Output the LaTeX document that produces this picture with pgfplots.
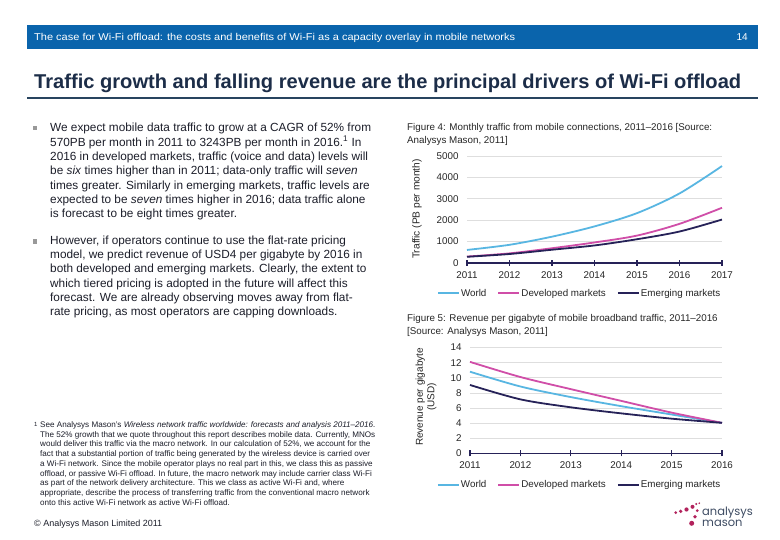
\documentclass[border=0pt]{standalone}
\usepackage{pgfplots}
\pgfplotsset{compat=1.18}
\usepackage{fontspec}
\setmainfont{Liberation Sans}
\newfontfamily\logofont{Poppins}
\definecolor{hdrblue}{RGB}{10,100,172}
\definecolor{titlec}{RGB}{28,45,72}
\definecolor{rulec}{RGB}{40,68,95}
\definecolor{bodyc}{RGB}{28,30,42}
\definecolor{worldc}{RGB}{88,182,226}
\definecolor{devc}{RGB}{208,78,168}
\definecolor{emc}{RGB}{38,34,88}
\definecolor{logom}{RGB}{178,34,92}
\definecolor{gridc}{RGB}{222,222,222}
\newcommand\tx[3]{\node[anchor=base west,inner sep=0pt] at (#1pt,#2pt) {#3};}
\pgfplotsset{slide/.style={
  scale only axis, clip=false,
  axis x line*=bottom, axis y line*=left,
  y axis line style={draw=none}, ytick style={draw=none},
  x axis line style={emc, line width=1.8pt, -},
  xtick style={emc, line width=1.3pt}, major tick length=6pt, tick align=center,
  ymajorgrids, grid style={gridc, line width=0.8pt},
  tick label style={font=\fontsize{9.8}{11}\selectfont, text=black!85},
  /pgf/number format/assume math mode=true, /pgf/number format/1000 sep={},
  yticklabel style={xshift=-2pt},
  xticklabel style={yshift=-2pt},
  legend style={draw=none, fill=none, legend columns=3, inner sep=0pt, outer sep=0pt,
    font=\fontsize{9.8}{11}\selectfont, text=black!85,
    nodes={inner xsep=1pt, inner ysep=0pt},
    /tikz/every even column/.append style={column sep=10pt}},
  legend image code/.code={\draw[##1, line width=2pt] (0pt,0pt) -- (21pt,0pt);},
  every axis plot/.append style={line width=1.8pt, smooth, mark=none},
}}
\begin{document}
\begin{tikzpicture}
\begin{scope}[x=1pt,y=1pt]
\fill[white] (0,0) rectangle (780,540);
% header
\fill[hdrblue] (27,491) rectangle (758,515);
\node[anchor=base west, inner sep=0pt, text=white] at (34,499.5) {\resizebox{481pt}{7.2pt}{The case for Wi-Fi offload: the costs and benefits of Wi-Fi as a capacity overlay in mobile networks}};
\node[anchor=base east, inner sep=0pt, text=white, font=\fontsize{10}{11}\selectfont] at (748,499.5) {14};
% title
\node[anchor=base west, inner sep=0pt, text=titlec] at (34,451) {\resizebox{707pt}{14.5pt}{\bfseries Traffic growth and falling revenue are the principal drivers of Wi-Fi offload}};
\draw[rulec, line width=1.8pt] (27,442) -- (758,442);
% bullets
\fill[black!40] (32.8,409.7) rectangle (37.2,414.1);
\fill[black!40] (32.8,296.2) rectangle (37.2,300.6);
\end{scope}
\begin{scope}[font=\fontsize{11.8}{14}\selectfont, text=bodyc]
\tx{50}{408.2}{We expect mobile data traffic to grow at a CAGR of 52\% from}
\tx{50}{393.9}{570PB per month in 2011 to 3243PB per month in 2016.\textsuperscript{1} In}
\tx{50}{379.5}{2016 in developed markets, traffic (voice and data) levels will}
\tx{50}{365.2}{be \textit{six} times higher than in 2011; data-only traffic will \textit{seven}}
\tx{50}{350.9}{times greater. Similarly in emerging markets, traffic levels are}
\tx{50}{336.5}{expected to be \textit{seven} times higher in 2016; data traffic alone}
\tx{50}{322.2}{is forecast to be eight times greater.}
\tx{50}{295.8}{However, if operators continue to use the flat-rate pricing}
\tx{50}{281.5}{model, we predict revenue of USD4 per gigabyte by 2016 in}
\tx{50}{267.2}{both developed and emerging markets. Clearly, the extent to}
\tx{50}{252.8}{which tiered pricing is adopted in the future will affect this}
\tx{50}{238.5}{forecast. We are already observing moves away from flat-}
\tx{50}{224.2}{rate pricing, as most operators are capping downloads.}
\end{scope}
% footnote
\begin{scope}[font=\fontsize{8.1}{9}\selectfont, text=bodyc]
\tx{34}{113}{\fontsize{6}{7}\selectfont 1}
\tx{40}{112.5}{See Analysys Mason's \textit{Wireless network traffic worldwide: forecasts and analysis 2011–2016.}}
\tx{40}{102.75}{The 52\% growth that we quote throughout this report describes mobile data. Currently, MNOs}
\tx{40}{93}{would deliver this traffic via the macro network. In our calculation of 52\%, we account for the}
\tx{40}{83.25}{fact that a substantial portion of traffic being generated by the wireless device is carried over}
\tx{40}{73.5}{a Wi-Fi network. Since the mobile operator plays no real part in this, we class this as passive}
\tx{40}{63.75}{offload, or passive Wi-Fi offload. In future, the macro network may include carrier class Wi-Fi}
\tx{40}{54}{as part of the network delivery architecture. This we class as active Wi-Fi and, where}
\tx{40}{44.25}{appropriate, describe the process of transferring traffic from the conventional macro network}
\tx{40}{34.5}{onto this active Wi-Fi network as active Wi-Fi offload.}
\end{scope}
\node[anchor=base west, inner sep=0pt, font=\fontsize{9}{10}\selectfont, text=bodyc] at (34pt,13pt) {© Analysys Mason Limited 2011};
% captions
\begin{scope}[font=\fontsize{9.8}{11}\selectfont, text=black!85]
\tx{407}{409.5}{Figure 4: Monthly traffic from mobile connections, 2011–2016 [Source:}
\tx{407}{396.5}{Analysys Mason, 2011]}
\tx{407}{218.5}{Figure 5: Revenue per gigabyte of mobile broadband traffic, 2011–2016}
\tx{407}{205.5}{[Source: Analysys Mason, 2011]}
\node[rotate=90, inner sep=0pt, font=\fontsize{10.2}{11}\selectfont] at (417pt,331pt) {Traffic (PB per month)};
\node[rotate=90, inner sep=0pt, align=center, font=\fontsize{10}{11.5}\selectfont] at (426pt,143pt) {Revenue per gigabyte\\(USD)};
\end{scope}
% chart 1
\begin{axis}[slide, at={(467pt,277pt)}, anchor=south west, width=255pt, height=107pt,
  xmin=2011, xmax=2017, ymin=0, ymax=5000, xtick={2011,2012,2013,2014,2015,2016,2017}, ytick={0,1000,2000,3000,4000,5000},
  legend style={at={(-0.1176,-0.285)}, anchor=west}]
\addplot[worldc] coordinates {(2011,610) (2012,850) (2013,1230) (2014,1710) (2015,2330) (2016,3250) (2017,4530)};
\addplot[devc] coordinates {(2011,300) (2012,450) (2013,690) (2014,960) (2015,1280) (2016,1830) (2017,2580)};
\addplot[emc] coordinates {(2011,290) (2012,420) (2013,620) (2014,820) (2015,1110) (2016,1470) (2017,2030)};
\legend{World, Developed markets, Emerging markets}
\end{axis}
% chart 2
\begin{axis}[slide, at={(470pt,86.5pt)}, anchor=south west, width=252pt, height=106pt,
  xmin=2011, xmax=2016, ymin=0, ymax=14, xtick={2011,2012,2013,2014,2015,2016}, ytick={0,2,4,6,8,10,12,14},
  legend style={at={(-0.131,-0.297)}, anchor=west}]
\addplot[worldc] coordinates {(2011,10.8) (2012,8.85) (2013,7.45) (2014,6.25) (2015,5.15) (2016,4.05)};
\addplot[devc] coordinates {(2011,12.1) (2012,10.1) (2013,8.5) (2014,6.95) (2015,5.4) (2016,4.05)};
\addplot[emc] coordinates {(2011,9.05) (2012,7.15) (2013,6.1) (2014,5.3) (2015,4.6) (2016,4.05)};
\legend{World, Developed markets, Emerging markets}
\end{axis}
% logo
\begin{scope}[x=1pt,y=1pt]
\fill[logom] (675.7,27.3) circle (1.5);
\fill[logom] (680.7,28.7) circle (1.8);
\fill[logom] (686.5,30.5) circle (2.1);
\fill[logom] (692.5,33.2) circle (2.0);
\fill[logom] (696.2,36.0) circle (1.1);
\fill[logom] (699.3,36.8) circle (0.9);
\fill[logom] (697.3,29.3) circle (1.5);
\fill[logom] (695.0,23.3) circle (1.9);
\fill[logom] (691.7,16.7) circle (2.5);
\node[anchor=base west, inner sep=0pt, text=titlec!85, font=\logofont\fontsize{11.5}{12}\selectfont] at (702,24.5) {analysys};
\node[anchor=base west, inner sep=0pt, text=titlec!85, font=\logofont\fontsize{11.5}{12}\selectfont] at (702,13) {mason};
\end{scope}
\pgfresetboundingbox
\useasboundingbox (0pt,0pt) rectangle (780pt,540pt);
\end{tikzpicture}
\end{document}
